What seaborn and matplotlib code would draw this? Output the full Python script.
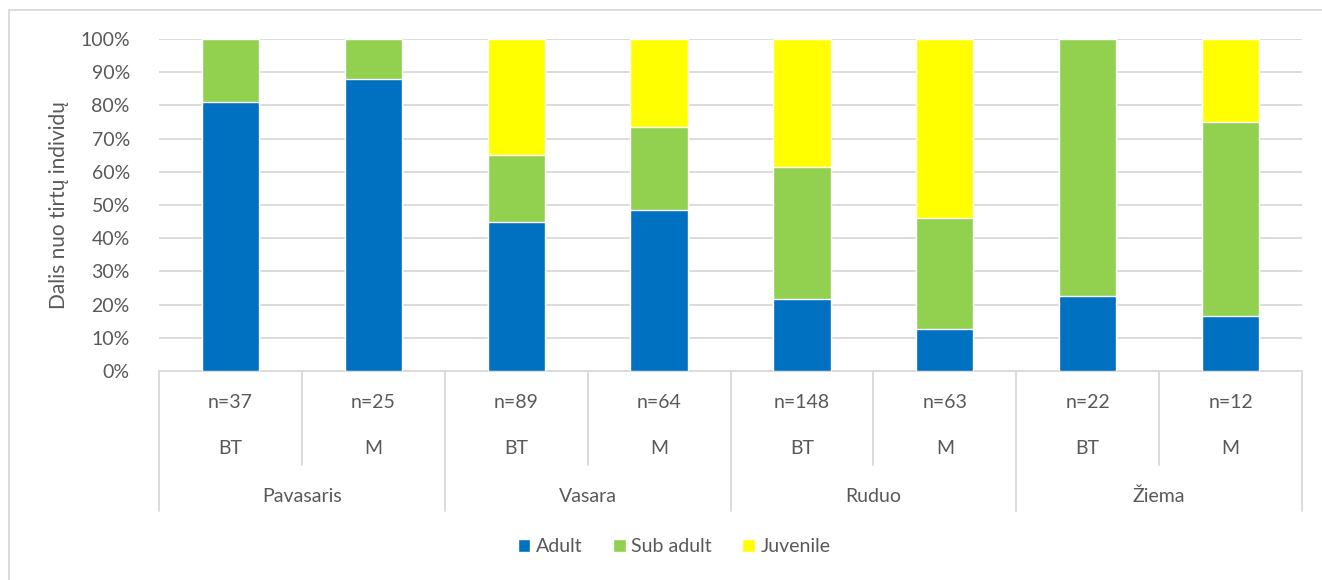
import numpy as np
import pandas as pd
import matplotlib.pyplot as plt
import seaborn as sns
from matplotlib.lines import Line2D
from matplotlib.patches import Patch

# values (percent of individuals)
seasons = ["Pavasaris", "Vasara", "Ruduo", "Žiema"]
sites = ["BT", "M", "BT", "M", "BT", "M", "BT", "M"]
n_labels = ["n=37", "n=25", "n=89", "n=64", "n=148", "n=63", "n=22", "n=12"]
adult = [81.1, 88.0, 44.9, 48.4, 21.6, 12.7, 22.7, 16.7]
sub_adult = [18.9, 12.0, 20.2, 25.0, 39.9, 33.3, 77.3, 58.3]
juvenile = [0.0, 0.0, 34.8, 26.6, 38.5, 54.0, 0.0, 25.0]

colors = {"Adult": "#0070C0", "Sub adult": "#92D050", "Juvenile": "#FFFF00"}
txt = "#595959"
grid = "#D9D9D9"
fs = 14

df = pd.DataFrame({"cat": [str(i) for i in range(len(sites))],
                   "Adult": adult, "Sub adult": sub_adult, "Juvenile": juvenile})
df["top_sub"] = df["Adult"] + df["Sub adult"]
df["top_juv"] = df["top_sub"] + df["Juvenile"]

sns.set_style("white")
plt.rcParams['font.family'] = ['Lato', 'DejaVu Sans']

fig = plt.figure(figsize=(13.22, 5.8), dpi=100)
ax = fig.add_axes([159 / 1322, 209 / 580, 1143 / 1322, 332 / 580])

# stacked bars drawn back to front
sns.barplot(data=df, x="cat", y="top_juv", color=colors["Juvenile"], width=0.4,
            saturation=1, ax=ax, zorder=2)
sns.barplot(data=df, x="cat", y="top_sub", color=colors["Sub adult"], width=0.4,
            saturation=1, ax=ax, zorder=3)
sns.barplot(data=df, x="cat", y="Adult", color=colors["Adult"], width=0.4,
            saturation=1, ax=ax, zorder=4)

ax.set_ylim(0, 100)
ax.set_xlim(-0.5, len(sites) - 0.5)
ax.set_yticks(np.arange(0, 101, 10))
ax.set_yticklabels([f"{v}%" for v in range(0, 101, 10)], color=txt, fontsize=fs)
ax.tick_params(axis="y", length=0, pad=21)
ax.set_xticks([])
ax.set_xlabel("")
ax.set_ylabel("Dalis nuo tirtų individų", color=txt, fontsize=15, labelpad=8)
ax.yaxis.grid(True, color=grid, linewidth=1.3, zorder=0)
ax.set_axisbelow(True)
for s in ["top", "right", "left"]:
    ax.spines[s].set_visible(False)
ax.spines["bottom"].set_color(grid)
ax.spines["bottom"].set_linewidth(1.3)

# multi-level category axis
tr = ax.get_xaxis_transform()
px = 1 / 332  # one pixel in axes-y units
for i, (n, s) in enumerate(zip(n_labels, sites)):
    ax.text(i, -31 * px, n, transform=tr, ha="center", va="center",
            color=txt, fontsize=fs)
    ax.text(i, -78 * px, s, transform=tr, ha="center", va="center",
            color=txt, fontsize=fs)
for j, season in enumerate(seasons):
    ax.text(2 * j + 0.5, -125 * px, season, transform=tr, ha="center",
            va="center", color=txt, fontsize=fs)
for k in range(len(sites) + 1):
    low = -140 * px if k % 2 == 0 else -94 * px
    ax.plot([k - 0.5, k - 0.5], [0, low], transform=tr, color=grid,
            linewidth=1.3, clip_on=False)

handles = [Patch(facecolor=c, label=l) for l, c in colors.items()]
fig.legend(handles=handles, loc="center", bbox_to_anchor=(0.51, 0.057), ncol=3,
           frameon=False, fontsize=fs, handlelength=0.65, handleheight=0.65,
           handletextpad=0.3, columnspacing=1.55, labelcolor=txt)

# chart border
fig.add_artist(Line2D([8.5 / 1322, 8.5 / 1322], [0, 1 - 10 / 580],
                      transform=fig.transFigure, color=grid, linewidth=1.3))
fig.add_artist(Line2D([8.5 / 1322, 1], [1 - 10 / 580, 1 - 10 / 580],
                      transform=fig.transFigure, color=grid, linewidth=1.3))

fig.savefig("out.png", dpi=100)
